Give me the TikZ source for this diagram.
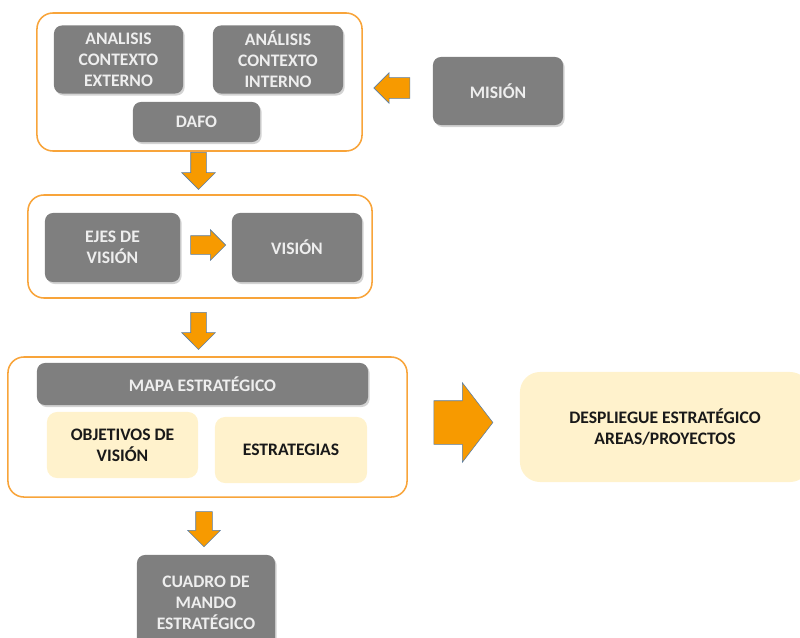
\documentclass[tikz,border=0pt]{standalone}
\usepackage{fontspec}
\setmainfont{Carlito}
\usetikzlibrary{shapes.arrows,shadows}

\definecolor{boxgray}{HTML}{7F7F7F}
\definecolor{boxtext}{HTML}{EEEEEE}
\definecolor{frameorange}{HTML}{F8A43A}
\definecolor{paleyellow}{HTML}{FFF2CC}
\definecolor{arroworange}{HTML}{F79A00}
\definecolor{arrowedge}{HTML}{5A7EA5}

\tikzset{
  graybox/.style={rectangle,rounded corners=0.2cm,fill=boxgray,text=boxtext,
    align=center,font=\bfseries\fontsize{12.5}{15}\selectfont,inner sep=0pt,
    drop shadow={opacity=0.35,shadow xshift=0.04cm,shadow yshift=-0.05cm}},
  yellowbox/.style={rectangle,rounded corners=0.25cm,fill=paleyellow,text=black!90,
    align=center,font=\bfseries\fontsize{12.5}{15}\selectfont,inner sep=0pt},
  groupframe/.style={rectangle,rounded corners=0.4cm,draw=frameorange,line width=1.1pt,inner sep=0pt},
  blockarrow/.style={single arrow,fill=arroworange,draw=arrowedge,line width=0.4pt,
    inner xsep=0pt,single arrow tip angle=90}
}

\begin{document}
\begin{tikzpicture}[x=0.025cm,y=-0.025cm]
\useasboundingbox (0,0) rectangle (800,637);
% bloque de analisis
\node[groupframe,minimum width=8.125cm,minimum height=3.45cm] (analisis) at (199.5,82) {};
\node[graybox,minimum width=3.225cm,minimum height=1.7cm] (externo) at (118.5,59.5) {ANALISIS\\CONTEXTO\\EXTERNO};
\node[graybox,minimum width=3.25cm,minimum height=1.7cm] (interno) at (278,59.5) {ANÁLISIS\\CONTEXTO\\INTERNO};
\node[graybox,minimum width=3.175cm,minimum height=1.0cm] (dafo) at (196.5,122) {DAFO};
\node[graybox,minimum width=3.25cm,minimum height=1.7cm] (mision) at (498,91) {MISIÓN};
\node[blockarrow,shape border rotate=180,minimum height=0.9cm,inner ysep=0.25cm,
  single arrow head extend=0.125cm] (flechamision) at (397,88) {};
\node[blockarrow,rotate=-90,minimum height=0.925cm,inner ysep=0.1875cm,
  single arrow head extend=0.225cm] (flechauno) at (198.5,167) {};
% bloque de vision
\node[groupframe,minimum width=8.6cm,minimum height=2.575cm] (bloquevision) at (200,246.5) {};
\node[graybox,minimum width=3.375cm,minimum height=1.725cm] (ejes) at (112.5,247.5) {EJES DE\\VISIÓN};
\node[graybox,minimum width=3.25cm,minimum height=1.725cm] (vision) at (297,247.5) {VISIÓN};
\node[blockarrow,minimum height=0.875cm,inner ysep=0.225cm,
  single arrow head extend=0.15cm] (flechaejes) at (203.5,245) {};
\node[blockarrow,rotate=-90,minimum height=0.925cm,inner ysep=0.1875cm,
  single arrow head extend=0.225cm] (flechados) at (198.5,327) {};
% mapa estrategico
\node[groupframe,minimum width=9.975cm,minimum height=3.5cm] (bloquemapa) at (207.5,427) {};
\node[graybox,minimum width=8.275cm,minimum height=1.05cm] (mapa) at (202.5,384) {MAPA ESTRATÉGICO};
\node[yellowbox,minimum width=3.775cm,minimum height=1.65cm] (objetivos) at (122.5,445) {OBJETIVOS DE\\VISIÓN};
\node[yellowbox,minimum width=3.8cm,minimum height=1.65cm] (estrategias) at (291,450) {ESTRATEGIAS};
\node[blockarrow,minimum height=1.475cm,inner ysep=0.5375cm,single arrow tip angle=105,
  single arrow head extend=0.45cm] (flechagrande) at (455,422.5) {};
\node[yellowbox,rounded corners=0.5cm,minimum width=7.25cm,minimum height=2.75cm] (despliegue) at (665,427) {DESPLIEGUE ESTRATÉGICO\\AREAS/PROYECTOS};
\node[blockarrow,rotate=-90,minimum height=0.875cm,inner ysep=0.2cm,
  single arrow head extend=0.2cm] (flechatres) at (204,525) {};
\node[graybox,minimum width=3.45cm,minimum height=2.375cm] (cuadro) at (206,602.5) {CUADRO DE\\MANDO\\ESTRATÉGICO};
\end{tikzpicture}
\end{document}
